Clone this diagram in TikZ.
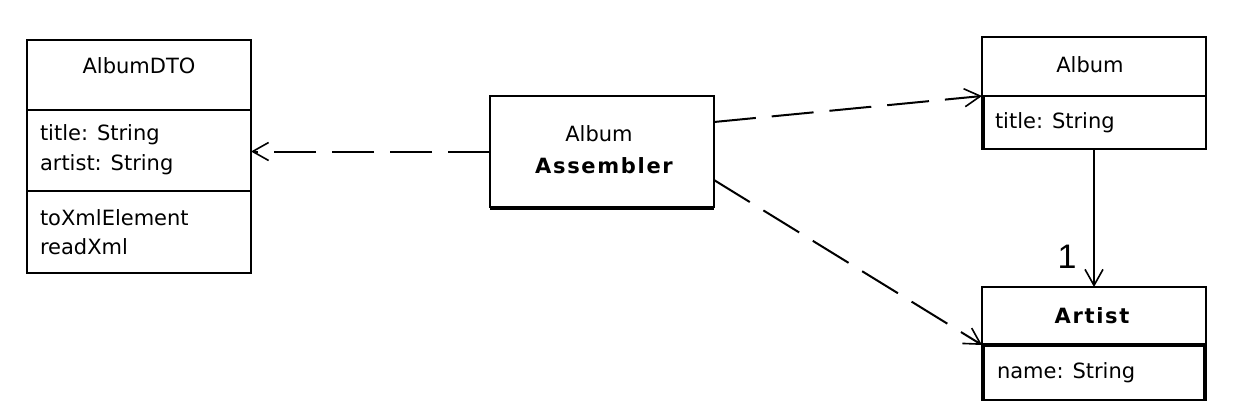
\documentclass[tikz,border=0pt]{standalone}
\usepackage{fontspec}
\setmainfont{DejaVu Sans}
\newfontfamily\labfont{Liberation Sans}
\usetikzlibrary{arrows.meta}
\begin{document}
\begin{tikzpicture}[x=1pt,y=-1pt,
  comp/.style={draw=black, line width=2pt, rectangle, inner sep=0pt, outer sep=0pt, anchor=north west, minimum width=224pt},
  txt/.style={inner sep=0pt, outer sep=0pt, font=\fontsize{21}{25}\selectfont},
  boldtxt/.style={inner sep=0pt, outer sep=0pt, font=\fontsize{21}{25}\selectfont\bfseries\addfontfeatures{LetterSpace=8}},
  dep/.style={draw=black, line width=2pt, dash pattern=on 42pt off 16pt, -{Straight Barb[length=16pt,width=18pt,line width=1.6pt]}},
  assoc/.style={draw=black, line width=2pt, -{Straight Barb[length=16pt,width=18pt,line width=1.6pt]}},
  heavy/.style={draw=black, line width=4pt}
]
\useasboundingbox (0,0) rectangle (1250,418);

% AlbumDTO
\node[comp, minimum height=70pt] (dtoH) at (27,40) {};
\node[comp, minimum height=81pt] (dtoA) at (27,110) {};
\node[comp, minimum height=82pt] (dtoO) at (27,191) {};
\node[txt, anchor=base] (dtoT) at (139,73) {AlbumDTO};
\node[txt, anchor=base west] (dtoA1) at (40,140) {title: String};
\node[txt, anchor=base west] (dtoA2) at (40,170) {artist: String};
\node[txt, anchor=base west] (dtoO1) at (40,225) {toXmlElement};
\node[txt, anchor=base west] (dtoO2) at (40,254) {readXml};

% Album Assembler
\node[comp, minimum height=111pt] (asm) at (490,96) {};
\draw[heavy] ([yshift=-1pt]asm.south west) -- ([yshift=-1pt]asm.south east);
\node[txt, anchor=base] (asmT1) at (599,141) {Album};
\node[boldtxt, anchor=base] (asmT2) at (604,173) {Assembler};

% Album
\node[comp, minimum height=59pt] (albH) at (982,37) {};
\node[comp, minimum height=53pt] (albA) at (982,96) {};
\draw[heavy] ([xshift=1pt]albA.north west) -- ([xshift=1pt]albA.south west);
\node[txt, anchor=base] (albT) at (1090,72) {Album};
\node[txt, anchor=base west] (albA1) at (995,128) {title: String};

% Artist
\node[comp, minimum height=58pt] (artH) at (982,287) {};
\node[comp, minimum height=55pt] (artA) at (982,345) {};
\draw[heavy] (artA.north west) -- (artA.north east);
\draw[heavy] ([xshift=1pt]artA.north west) -- ([xshift=1pt]artA.south west);
\draw[heavy] ([xshift=-1pt]artA.north east) -- ([xshift=-1pt]artA.south east);
\node[boldtxt, anchor=base] (artT) at (1092,323) {Artist};
\node[txt, anchor=base west] (artA1) at (997,378) {name: String};

% connectors
\draw[dep] (asm.west) -- (asm.west -| dtoA.east);
\draw[dep] ([yshift=-26pt]asm.north east) -- (albA.north west);
\draw[dep] ([yshift=27pt]asm.south east) -- (artA.north west);
\draw[assoc] (albA.south) -- (artH.north);
\node[inner sep=0pt, anchor=base, font=\fontsize{34}{36}\selectfont\labfont] (one) at (1067,268) {1};
\end{tikzpicture}
\end{document}
